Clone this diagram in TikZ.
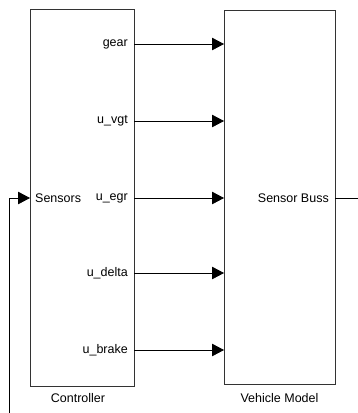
\documentclass[tikz,border=0pt]{standalone}
\usepackage{fontspec}
\setmainfont{Liberation Sans}
\usetikzlibrary{arrows.meta}
\begin{document}
\begin{tikzpicture}[x=1pt,y=-1pt,
  blk/.style={draw=black!80,line width=0.8pt},
  sig/.style={draw=black,line width=0.8pt,-{Triangle[length=12pt,width=12.5pt]}},
  wire/.style={draw=black,line width=0.8pt},
  lbl/.style={font=\fontsize{12.5}{14}\selectfont,inner sep=0pt},
  blkcaption/.style={font=\fontsize{12.5}{14}\selectfont,inner sep=0pt}]
\useasboundingbox (0,0) rectangle (358,413);
% blocks
\node[blk,minimum width=104pt,minimum height=377pt,inner sep=0pt,anchor=north west] (ctrl) at (30,8.5) {};
\node[blk,minimum width=111pt,minimum height=374.5pt,inner sep=0pt,anchor=north west] (veh) at (224,9.5) {};
\node[blkcaption] (ctrlcap) at (78,398) {Controller};
\node[blkcaption] (vehcap) at (279.5,398) {Vehicle Model};
% ports
\coordinate (o1) at (134,44);
\coordinate (o2) at (134,121);
\coordinate (o3) at (134,198);
\coordinate (o4) at (134,273);
\coordinate (o5) at (134,350);
\coordinate (i1) at (224,44);
\coordinate (i2) at (224,121);
\coordinate (i3) at (224,198);
\coordinate (i4) at (224,273);
\coordinate (i5) at (224,350);
\coordinate (sin) at (30,198);
\coordinate (sout) at (335,198);
\coordinate (fbR) at (358,198);
\coordinate (fbB) at (9,413);
\coordinate (fbC) at (9,198);
% labels
\node[lbl,anchor=east] (lg) at (128,44) {gear};
\node[lbl,anchor=east] (lv) at (128,121) {u\_vgt};
\node[lbl,anchor=east] (le) at (128,198) {u\_egr};
\node[lbl,anchor=east] (ld) at (128,273) {u\_delta};
\node[lbl,anchor=east] (lb) at (128,350) {u\_brake};
\node[lbl,anchor=west] (ls) at (35,198) {Sensors};
\node[lbl,anchor=east] (lsb) at (329,198) {Sensor Buss};
% signals
\draw[sig] (o1) -- (i1);
\draw[sig] (o2) -- (i2);
\draw[sig] (o3) -- (i3);
\draw[sig] (o4) -- (i4);
\draw[sig] (o5) -- (i5);
\draw[sig] (fbB) -- (fbC) -- (sin);
\draw[wire] (sout) -- (fbR);
\end{tikzpicture}
\end{document}
